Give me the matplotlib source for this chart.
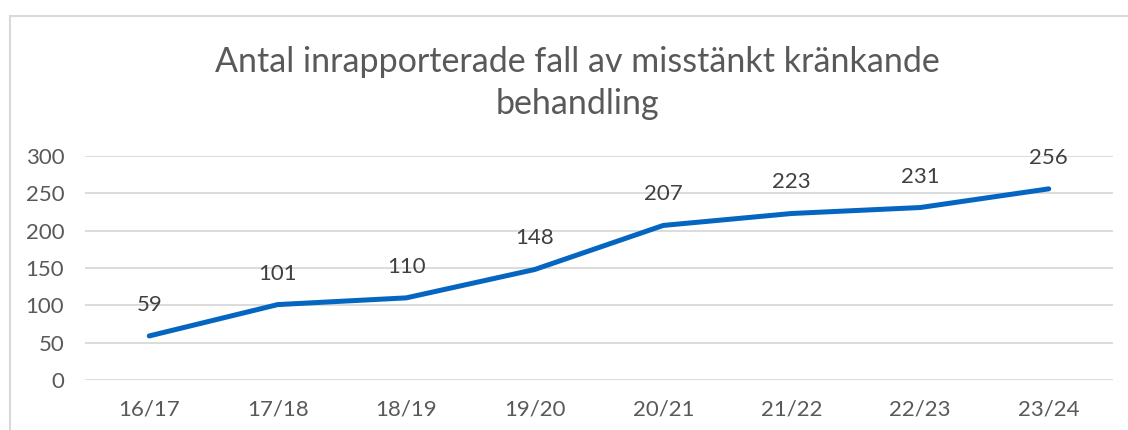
import matplotlib.pyplot as plt
from matplotlib.patches import Rectangle

plt.rcParams['font.family'] = ['Lato', 'DejaVu Sans']

seasons = ['16/17', '17/18', '18/19', '19/20', '20/21', '21/22', '22/23', '23/24']
cases = [59, 101, 110, 148, 207, 223, 231, 256]
title = 'Antal inrapporterade fall av misstänkt kränkande\nbehandling'

text_col = '#595959'
grid_col = '#D9D9D9'
line_col = '#0566C1'

fig = plt.figure(figsize=(11.28, 4.30), dpi=100)
ax = fig.add_axes([85 / 1128, 1 - 380 / 430, 1028 / 1128, 224 / 430])

# chart frame (left/top visible, rest cut off by the crop)
fig.patches.append(Rectangle((10 / 1128, -0.1), 1.2, 1 - 16 / 430 + 0.1,
                             transform=fig.transFigure, fill=False,
                             edgecolor=grid_col, linewidth=1.5))

x = list(range(len(seasons)))
ax.plot(x, cases, color=line_col, linewidth=3.6, solid_capstyle='round',
        solid_joinstyle='round', zorder=3)

for xi, v in zip(x, cases):
    ax.annotate(str(v), (xi, v), xytext=(0, 31), textcoords='offset pixels',
                ha='center', va='center', fontsize=16, color='#404040')

ax.set_xlim(-0.5, len(seasons) - 0.5)
ax.set_ylim(0, 300)
ax.set_yticks(range(0, 301, 50))
ax.set_xticks(x)
ax.set_xticklabels(seasons)
ax.grid(axis='y', color=grid_col, linewidth=1.3)
ax.set_axisbelow(True)
for s in ax.spines.values():
    s.set_visible(False)
ax.tick_params(length=0, labelsize=16, colors=text_col)
ax.tick_params(axis='y', pad=15)
ax.tick_params(axis='x', pad=14)

fig.text(577 / 1128, 1 - 83 / 430, title, ha='center', va='center',
         fontsize=24.5, color=text_col, linespacing=1.38)

fig.savefig('out.png', dpi=100)
